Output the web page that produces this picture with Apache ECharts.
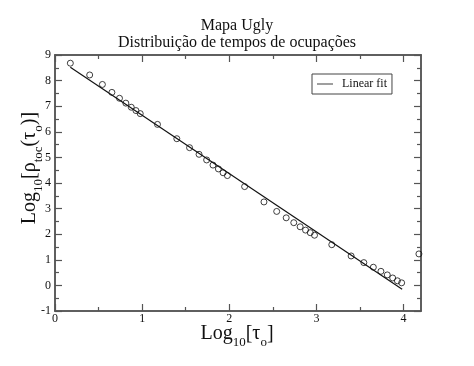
<!DOCTYPE html>
<html>
<head>
<meta charset="utf-8">
<script src="https://cdn.jsdelivr.net/npm/echarts@6/dist/echarts.min.js"></script>
<style>html,body{margin:0;padding:0;background:#fff}#c{width:474px;height:366px}</style>
</head>
<body>
<div id="c"></div>
<script>
var titleText = 'Mapa Ugly';
var subtitleText = 'Distribuição de tempos de ocupações';
var xTickLabels = [0, 1, 2, 3, 4];
var yTickLabels = [-1, 0, 1, 2, 3, 4, 5, 6, 7, 8, 9];
var dataX = [0.176,0.398,0.544,0.653,0.740,0.813,0.875,0.929,0.978,
             1.176,1.398,1.544,1.653,1.740,1.813,1.875,1.929,1.978,
             2.176,2.398,2.544,2.653,2.740,2.813,2.875,2.929,2.978,
             3.176,3.398,3.544,3.653,3.740,3.813,3.875,3.929,3.978,4.176];
var dataY = [8.68,8.22,7.85,7.54,7.31,7.12,6.96,6.83,6.71,
             6.29,5.73,5.38,5.12,4.90,4.70,4.55,4.40,4.29,
             3.86,3.26,2.89,2.64,2.45,2.29,2.16,2.06,1.96,
             1.59,1.15,0.89,0.71,0.55,0.41,0.29,0.18,0.10,1.23];
var fitX = [0.176, 3.984];
var fitY = [8.52, -0.15];
var fitName = 'Linear fit';

var serif = '"Liberation Serif", "DejaVu Serif", serif';
var axisColor = '#555';
var xMinor = [0.5,1.5,2.5,3.5];
var yMinor = [-0.5,0.5,1.5,2.5,3.5,4.5,5.5,6.5,7.5,8.5];

function axisBase(pos, isX, showLabels, labels, tickLen) {
  return {
    type: 'value',
    position: pos,
    min: isX ? 0 : -1,
    max: isX ? 4.2 : 9,
    interval: 1,
    axisLine: { show: true, onZero: false, lineStyle: { color: axisColor, width: 1.5 } },
    axisTick: { show: true, inside: true, length: tickLen, lineStyle: { color: axisColor, width: 1.2 },
                customValues: labels },
    minorTick: { show: false },
    splitLine: { show: false },
    axisLabel: { show: showLabels, fontFamily: serif, fontSize: 12, color: '#111', margin: isX ? 2 : 4,
                 customValues: labels }
  };
}

var scatterData = dataX.map(function (x, i) { return [x, dataY[i]]; });
var fitData = fitX.map(function (x, i) { return [x, fitY[i]]; });

var chart = echarts.init(document.getElementById('c'), null, { renderer: 'canvas' });
chart.setOption({
  backgroundColor: '#fff',
  animation: false,
  textStyle: { fontFamily: serif },
  title: [
    { text: titleText, left: 'center', top: 13, textStyle: { fontFamily: serif, fontSize: 16, fontWeight: 'normal', color: '#111' } },
    { text: subtitleText, left: 'center', top: 30, textStyle: { fontFamily: serif, fontSize: 16, fontWeight: 'normal', color: '#111' } }
  ],
  grid: { left: 55, right: 53, top: 55, bottom: 55 },
  xAxis: [
    axisBase('bottom', true, true, xTickLabels, 7),
    axisBase('top', true, false, xTickLabels, 7),
    axisBase('bottom', true, false, xMinor, 4),
    axisBase('top', true, false, xMinor, 4)
  ],
  yAxis: [
    axisBase('left', false, true, yTickLabels, 7),
    axisBase('right', false, false, yTickLabels, 7),
    axisBase('left', false, false, yMinor, 4),
    axisBase('right', false, false, yMinor, 4)
  ],
  legend: {
    data: [{ name: fitName, icon: 'path://M0,0 L20,0 L20,1 L0,1 Z' }],
    left: 312, top: 74,
    orient: 'vertical',
    borderColor: '#444', borderWidth: 1, borderRadius: 0,
    padding: [4, 5, 4, 5],
    itemWidth: 16, itemHeight: 1, itemGap: 4,
    textStyle: { fontFamily: serif, fontSize: 12, color: '#111', padding: [0, 0, 0, 4] }
  },
  series: [
    {
      name: 'data', type: 'scatter', xAxisIndex: 0, yAxisIndex: 0,
      data: scatterData, symbol: 'circle', symbolSize: 6,
      itemStyle: { color: 'transparent', borderColor: '#111', borderWidth: 1 },
      silent: true, z: 3
    },
    {
      name: fitName, type: 'line', xAxisIndex: 0, yAxisIndex: 0,
      data: fitData, symbol: 'none', showSymbol: false,
      lineStyle: { color: '#111', width: 1.2 },
      itemStyle: { color: '#111' },
      z: 2
    }
  ],
  graphic: [
    {
      type: 'text', left: 'center', top: 324,
      style: {
        text: '{n|Log}{s|10}{n|[τ}{s|o}{n|]}',
        fill: '#111',
        rich: {
          n: { fontFamily: serif, fontSize: 20, fill: '#111', verticalAlign: 'bottom', lineHeight: 24 },
          s: { fontFamily: serif, fontSize: 13, fill: '#111', verticalAlign: 'bottom', lineHeight: 18, padding: [0, 0, -5, 0] }
        }
      }
    },
    {
      type: 'text', x: 28, y: 168, rotation: Math.PI / 2,
      style: {
        text: '{n|Log}{s|10}{n|[ρ}{s|toc}{n|(τ}{s|o}{n|)]}',
        align: 'center', verticalAlign: 'middle',
        fill: '#111',
        rich: {
          n: { fontFamily: serif, fontSize: 20, fill: '#111', verticalAlign: 'bottom', lineHeight: 24 },
          s: { fontFamily: serif, fontSize: 13, fill: '#111', verticalAlign: 'bottom', lineHeight: 18, padding: [0, 0, -5, 0] }
        }
      }
    }
  ]
});
</script>
</body>
</html>
